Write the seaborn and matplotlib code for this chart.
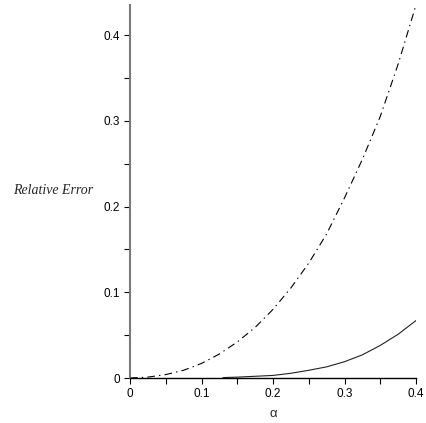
import numpy as np
import pandas as pd
import seaborn as sns
import matplotlib.pyplot as plt
from matplotlib.ticker import MultipleLocator

# values
alpha_dd = [0.0, 0.025, 0.05, 0.075, 0.1, 0.125, 0.15, 0.175, 0.2, 0.225, 0.25,
            0.275, 0.3, 0.325, 0.35, 0.375, 0.4]
err_dd = [0.0, 0.001, 0.004, 0.009, 0.017, 0.028, 0.042, 0.059, 0.080, 0.105, 0.134,
          0.168, 0.210, 0.255, 0.305, 0.366, 0.435]

alpha_solid = [0.13, 0.15, 0.175, 0.2, 0.225, 0.25, 0.275, 0.3, 0.325, 0.35, 0.375, 0.4]
err_solid = [0.0005, 0.001, 0.002, 0.003, 0.0055, 0.009, 0.013, 0.019, 0.027, 0.038, 0.051, 0.067]

sns.set_style("ticks")
plt.rcParams['font.family'] = ['Liberation Sans', 'DejaVu Sans']
plt.rcParams['lines.scale_dashes'] = False

fig = plt.figure(figsize=(4.26, 4.23), dpi=100)
ax = fig.add_axes([130 / 426, 45 / 423, 286 / 426, 373 / 423])

df_dd = pd.DataFrame({"alpha": alpha_dd, "err": err_dd})
df_solid = pd.DataFrame({"alpha": alpha_solid, "err": err_solid})

sns.lineplot(data=df_dd, x="alpha", y="err", ax=ax, color="black", linewidth=0.8)
ax.lines[-1].set_dashes([5.5, 3, 1, 3])
sns.lineplot(data=df_solid, x="alpha", y="err", ax=ax, color="#222222", linewidth=0.8)

ax.set_xlim(0, 0.4)
ax.set_ylim(0, 0.435)
ax.xaxis.set_major_locator(MultipleLocator(0.1))
ax.xaxis.set_minor_locator(MultipleLocator(0.05))
ax.yaxis.set_major_locator(MultipleLocator(0.1))
ax.yaxis.set_minor_locator(MultipleLocator(0.05))
ax.xaxis.set_major_formatter(lambda v, p: "0" if abs(v) < 1e-9 else f"{v:.1f}")
ax.yaxis.set_major_formatter(lambda v, p: "0" if abs(v) < 1e-9 else f"{v:.1f}")

for s in ["top", "right"]:
    ax.spines[s].set_visible(False)
ax.spines["left"].set_color("#7a7a7a")
ax.spines["left"].set_linewidth(1.5)
ax.spines["bottom"].set_color("black")
ax.spines["bottom"].set_linewidth(1.0)
ax.tick_params(which="both", direction="out", length=4, width=0.8, colors="black",
               labelsize=8.5, pad=3)

ax.set_xlabel("α", fontsize=9.5, labelpad=6)
ax.set_ylabel("")
fig.text(53 / 426, 1 - 190 / 423, "Relative Error", fontsize=10, style="italic",
         family=["Liberation Serif", "DejaVu Serif"], ha="center", va="center")

fig.savefig("out.png", dpi=100)
